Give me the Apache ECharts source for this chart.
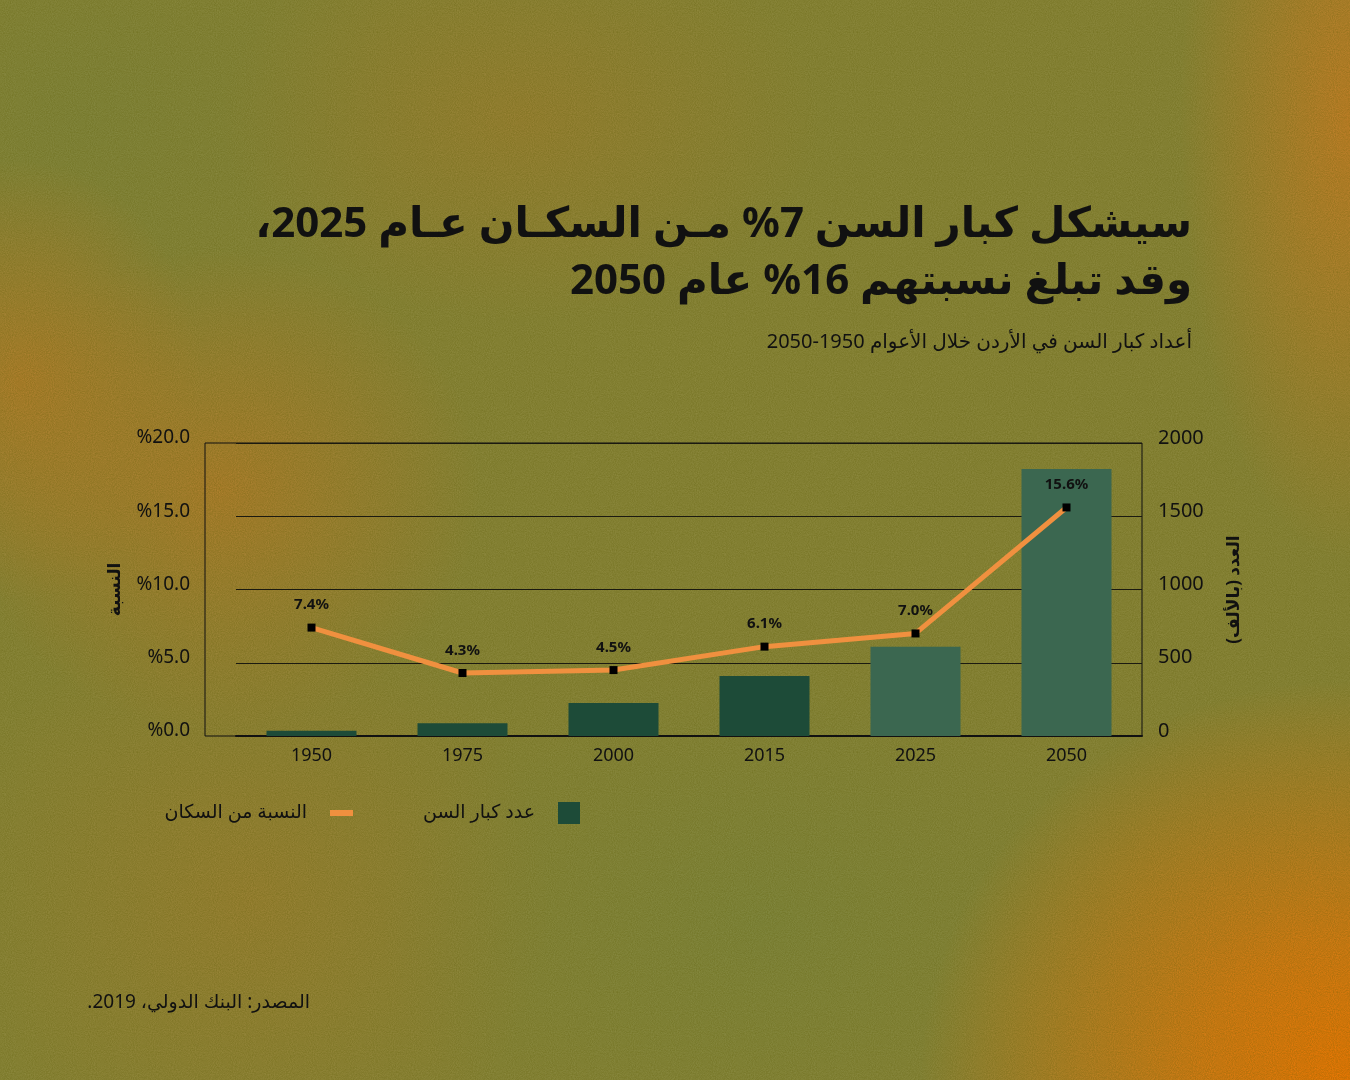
<!DOCTYPE html>
<html>
<head>
<meta charset="utf-8">
<script src="https://cdn.jsdelivr.net/npm/echarts@6/dist/echarts.min.js"></script>
<style>
  html, body { margin: 0; padding: 0; width: 1350px; height: 1080px; overflow: hidden; }
  body {
    background-color: #8e8a40;
    background-image:
      url("data:image/svg+xml;utf8,<svg xmlns='http://www.w3.org/2000/svg' width='240' height='240'><filter id='n'><feTurbulence type='fractalNoise' baseFrequency='0.95' numOctaves='2' stitchTiles='stitch'/><feColorMatrix values='0 0 0 0 0.1  0 0 0 0 0.1  0 0 0 0 0  0 0 0 0.45 0'/></filter><rect width='100%' height='100%' filter='url(%23n)'/></svg>"),
      radial-gradient(ellipse 430px 400px at 1350px 1080px, rgba(250,122,4,1) 0%, rgba(242,124,12,0.8) 35%, rgba(210,125,40,0) 100%),
      radial-gradient(ellipse 170px 440px at 1350px 120px, rgba(210,130,42,0.9) 0%, rgba(205,130,45,0) 100%),
      radial-gradient(ellipse 260px 240px at 220px 490px, rgba(195,128,46,0.75) 0%, rgba(190,128,48,0) 100%),
      radial-gradient(ellipse 180px 220px at 20px 380px, rgba(200,128,44,0.7) 0%, rgba(195,128,45,0) 100%),
      radial-gradient(ellipse 300px 200px at 520px 120px, rgba(180,128,50,0.45) 0%, rgba(175,128,52,0) 100%),
      radial-gradient(ellipse 380px 260px at 760px 920px, rgba(122,140,72,0.5) 0%, rgba(120,140,72,0) 100%),
      radial-gradient(ellipse 320px 260px at 80px 120px, rgba(124,138,70,0.45) 0%, rgba(122,138,70,0) 100%),
      radial-gradient(ellipse 300px 300px at 250px 900px, rgba(182,128,50,0.45) 0%, rgba(180,128,52,0) 100%);
  }
  #main { width: 1350px; height: 1080px; }
</style>
</head>
<body>
<div id="main" dir="rtl"></div>
<script>
// values
var years = ['1950', '1975', '2000', '2015', '2025', '2050'];
var elderly = [36, 87, 225, 410, 610, 1823];      // العدد بالألف
var share = [7.4, 4.3, 4.5, 6.1, 7.0, 15.6];      // النسبة من السكان
var shareTicks = ['%0.0', '%5.0', '%10.0', '%15.0', '%20.0'];
var firstProjected = '2025';

var FONT = "'Noto Sans', 'DejaVu Sans', sans-serif";
var dark = '#1d4b38';
var light = '#3b6750';
var orange = '#f0903f';
var ink = '#111111';

var chart = echarts.init(document.getElementById('main'), null, { renderer: 'canvas' });

function txt(text, x, y, size, weight) {
    return {
        type: 'text',
        x: x,
        y: y,
        silent: true,
        style: {
            text: text,
            fill: ink,
            font: weight + ' ' + size + 'px ' + FONT,
            align: 'right',
            verticalAlign: 'middle'
        }
    };
}

var option = {
    backgroundColor: 'transparent',
    textStyle: { fontFamily: FONT, color: ink },
    graphic: [
        txt('سيشكل كبار السن 7% مـن السكـان عـام 2025،', 1192, 225, 42, 'bold'),
        txt('وقد تبلغ نسبتهم 16% عام 2050', 1192, 282, 42, 'bold'),
        txt('أعداد كبار السن في الأردن خلال الأعوام 1950-2050', 1192, 342, 20, 'normal'),
        txt('المصدر: البنك الدولي، 2019.', 310, 1003, 19, 'normal'),
        {
            type: 'rect',
            shape: { x: 205, y: 443, width: 937, height: 293 },
            style: { fill: 'none', stroke: ink, lineWidth: 1 },
            z: 0,
            silent: true
        }
    ],
    legend: [{
        data: [{ name: 'عدد كبار السن', itemStyle: { color: dark } }],
        right: 770,
        top: 802,
        padding: 0,
        align: 'right',
        icon: 'rect',
        itemWidth: 22,
        itemHeight: 22,
        textStyle: { fontFamily: FONT, fontSize: 19, color: ink, padding: [0, 18, 0, 0] }
    }, {
        data: [{ name: 'النسبة من السكان', itemStyle: { color: orange } }],
        right: 997,
        top: 802,
        padding: 0,
        align: 'right',
        icon: 'rect',
        itemWidth: 23,
        itemHeight: 6,
        textStyle: { fontFamily: FONT, fontSize: 19, color: ink, padding: [0, 18, 0, 0], lineHeight: 22 }
    }],
    grid: { left: 236, right: 208, top: 443, bottom: 344 },
    xAxis: {
        type: 'category',
        data: years,
        boundaryGap: true,
        axisLine: { show: true, lineStyle: { color: ink, width: 2 } },
        axisTick: { show: false },
        axisLabel: { fontFamily: FONT, fontSize: 18, color: ink, margin: 11 }
    },
    yAxis: [{
        type: 'value',
        min: 0,
        max: 20,
        interval: 5,
        position: 'left',
        name: 'النسبة',
        nameLocation: 'middle',
        nameGap: 112,
        nameTextStyle: { fontFamily: FONT, fontSize: 17, fontWeight: 'bold', color: ink },
        axisLine: { show: false },
        axisTick: { show: false },
        splitLine: { show: true, lineStyle: { color: '#1b1a10', width: 1.2 } },
        axisLabel: {
            fontFamily: FONT, fontSize: 19, color: ink, margin: 46,
            verticalAlign: 'bottom', lineHeight: 10,
            formatter: function (v) { return shareTicks[v / 5]; }
        }
    }, {
        type: 'value',
        min: 0,
        max: 2000,
        interval: 500,
        position: 'right',
        name: 'العدد (بالألف)',
        nameLocation: 'middle',
        nameGap: 84,
        nameRotate: 90,
        nameTextStyle: { fontFamily: FONT, fontSize: 17, fontWeight: 'bold', color: ink },
        axisLine: { show: false },
        axisTick: { show: false },
        splitLine: { show: false },
        axisLabel: {
            fontFamily: FONT, fontSize: 20, color: ink, margin: 16, align: 'left',
            verticalAlign: 'bottom', lineHeight: 10,
            formatter: function (v) { return String(v); }
        }
    }],
    series: [{
        name: 'عدد كبار السن',
        type: 'bar',
        yAxisIndex: 1,
        data: elderly,
        barWidth: 90,
        itemStyle: {
            color: function (p) {
                return years.indexOf(p.name) >= years.indexOf(firstProjected) ? light : dark;
            }
        },
        z: 2
    }, {
        name: 'النسبة من السكان',
        type: 'line',
        yAxisIndex: 0,
        data: share,
        symbol: 'rect',
        symbolSize: 8,
        lineStyle: { color: orange, width: 5 },
        itemStyle: { color: '#000000' },
        label: {
            show: true,
            position: 'top',
            distance: 11,
            fontFamily: FONT,
            fontSize: 15,
            fontWeight: 'bold',
            color: ink,
            formatter: function (p) { return p.value.toFixed(1) + '%'; }
        },
        z: 3
    }]
};

chart.setOption(option);
</script>
</body>
</html>
